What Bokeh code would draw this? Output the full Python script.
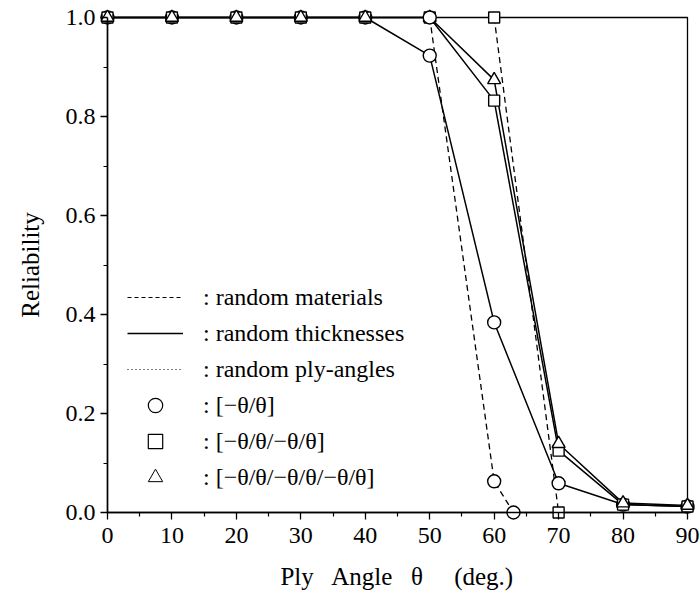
from bokeh.plotting import figure
from bokeh.models import FixedTicker, Legend, LegendItem, BoxAnnotation, LinearAxis
from bokeh.embed import file_html
from bokeh.resources import INLINE

# ---- data ----
# random thicknesses (solid lines)
thk_x = [0, 10, 20, 30, 40, 50, 60, 70, 80, 90]
thk_circle = [1.0, 1.0, 1.0, 1.0, 1.0, 0.923, 0.384, 0.059, 0.016, 0.012]
thk_square = [1.0, 1.0, 1.0, 1.0, 1.0, 1.0, 0.832, 0.125, 0.016, 0.012]
thk_triangle = [1.0, 1.0, 1.0, 1.0, 1.0, 1.0, 0.874, 0.139, 0.019, 0.014]
# random materials (dashed lines)
mat_circle_x = [50, 60, 63]
mat_circle = [1.0, 0.063, 0.0]
mat_square_x = [60, 70]
mat_square = [1.0, 0.0]

x_min, x_max = 0, 90
y_min, y_max = 0.0, 1.0
x_ticks = [0, 10, 20, 30, 40, 50, 60, 70, 80, 90]
x_tick_labels = ["0", "10", "20", "30", "40", "50", "60", "70", "80", "90"]
y_ticks = [0.0, 0.2, 0.4, 0.6, 0.8, 1.0]
y_tick_labels = ["0.0", "0.2", "0.4", "0.6", "0.8", "1.0"]

line_labels = [": random materials", ": random thicknesses", ": random ply-angles"]
marker_labels = [": [\u2212\u03b8/\u03b8]", ": [\u2212\u03b8/\u03b8/\u2212\u03b8/\u03b8]",
                 ": [\u2212\u03b8/\u03b8/\u2212\u03b8/\u03b8/\u2212\u03b8/\u03b8]"]
x_title = "Ply\u00a0\u00a0 Angle\u00a0\u00a0 \u03b8\u00a0\u00a0\u00a0\u00a0 (deg.)"
y_title = "Reliability"

FONT = "Liberation Serif"

# frame is padded by 10 px on each side so that edge markers are not clipped
PAD = 10
PX_X = 580 / (x_max - x_min)
PX_Y = 495 / (y_max - y_min)
dx = PAD / PX_X
dy = PAD / PX_Y

p = figure(width=700, height=599,
           x_range=(x_min - dx, x_max + dx), y_range=(y_min - dy, y_max + dy),
           output_backend="svg", toolbar_location=None,
           min_border_left=107 - PAD, min_border_right=13 - PAD,
           min_border_top=17 - PAD, min_border_bottom=87 - PAD)
p.grid.visible = False
p.outline_line_color = None
p.background_fill_color = "white"
p.border_fill_color = "white"

frame_box = BoxAnnotation(left=x_min, right=x_max, bottom=y_min, top=y_max,
                          fill_alpha=0, line_color="black", line_alpha=1.0,
                          line_width=1.3, level="underlay")
p.add_layout(frame_box)

x_ticker = FixedTicker(ticks=x_ticks, minor_ticks=[t + 5 for t in x_ticks[:-1]])
y_ticker = FixedTicker(ticks=y_ticks, minor_ticks=[round(t + 0.1, 1) for t in y_ticks[:-1]])

# label axes (default below / left): only tick labels and titles
for ax, ticker, ticks, labels in ((p.xaxis[0], x_ticker, x_ticks, x_tick_labels),
                                  (p.yaxis[0], y_ticker, y_ticks, y_tick_labels)):
    ax.ticker = ticker
    ax.major_label_overrides = {t: l for t, l in zip(ticks, labels)}
    ax.axis_line_color = None
    ax.major_tick_line_color = None
    ax.minor_tick_line_color = None
    ax.major_tick_in = 0
    ax.major_tick_out = 0
    ax.minor_tick_in = 0
    ax.minor_tick_out = 0
    ax.major_label_text_font = FONT
    ax.major_label_text_font_size = "24px"
    ax.major_label_text_color = "black"
    ax.axis_label_text_font = FONT
    ax.axis_label_text_font_size = "25px"
    ax.axis_label_text_font_style = "normal"
    ax.axis_label_text_color = "black"

p.xaxis.axis_label = x_title
p.yaxis.axis_label = y_title
p.xaxis.major_label_standoff = 5
p.yaxis.major_label_standoff = 2
p.xaxis.axis_label_standoff = 17
p.yaxis.axis_label_standoff = 19


def line_axis(ticker, ticks, loc):
    ax = LinearAxis(ticker=ticker, fixed_location=loc)
    ax.major_label_overrides = {t: "" for t in ticks}
    ax.major_label_text_font_size = "0px"
    ax.major_label_standoff = 0
    ax.axis_line_color = "black"
    ax.axis_line_width = 1.5
    ax.major_tick_line_color = "black"
    ax.minor_tick_line_color = "black"
    ax.major_tick_line_width = 1.3
    ax.minor_tick_line_width = 1.2
    ax.major_tick_in = 7
    ax.major_tick_out = 0
    ax.minor_tick_in = 4
    ax.minor_tick_out = 0
    return ax


# axis lines and ticks, drawn at the data edges (ticks pointing outward)
x_line_axis = line_axis(x_ticker, x_ticks, y_min)
x_line_axis.bounds = (x_min, x_max)
p.add_layout(x_line_axis, "above")
y_line_axis = line_axis(y_ticker, y_ticks, x_min)
y_line_axis.bounds = (y_min, y_max)
p.add_layout(y_line_axis, "right")

SOLID_W = 1.5
DASH_W = 1.3
DASH = "6 4"
MS_C = 13
MS_S = 11
MS_T = 13
MLW = 1.4

# lines
p.line(thk_x, thk_circle, line_color="black", line_width=SOLID_W)
p.line(thk_x, thk_square, line_color="black", line_width=SOLID_W)
p.line(thk_x, thk_triangle, line_color="black", line_width=SOLID_W)
p.line(mat_circle_x, mat_circle, line_color="black", line_width=DASH_W, line_dash=DASH)
p.line(mat_square_x, mat_square, line_color="black", line_width=DASH_W, line_dash=DASH)

# markers
p.scatter(thk_x, thk_circle, marker="circle", size=MS_C, fill_color="white",
          line_color="black", line_width=MLW)
p.scatter(thk_x, thk_square, marker="square", size=MS_S, fill_color="white",
          line_color="black", line_width=MLW)
p.scatter(thk_x, thk_triangle, marker="triangle", size=MS_T, fill_color="white",
          line_color="black", line_width=MLW)
p.scatter(mat_circle_x, mat_circle, marker="circle", size=MS_C, fill_color="white",
          line_color="black", line_width=MLW)
p.scatter(mat_square_x, mat_square, marker="square", size=MS_S, fill_color="white",
          line_color="black", line_width=MLW)

# hidden renderers that only supply the key glyph styles for the legend
lg_dash = p.line(thk_x, thk_circle, line_color="black", line_width=1.0, line_dash="4 3", visible=False)
lg_solid = p.line(thk_x, thk_circle, line_color="black", line_width=1.3, visible=False)
lg_dot = p.line(thk_x, thk_circle, line_color="black", line_width=1.0, line_dash="1 3", visible=False)
lg_c = p.scatter(thk_x, thk_circle, marker="circle", fill_color="white", line_color="black", line_width=1.2, visible=False)
lg_s = p.scatter(thk_x, thk_circle, marker="square", fill_color="white", line_color="black", line_width=1.2, visible=False)
lg_t = p.scatter(thk_x, thk_circle, marker="triangle", fill_color="white", line_color="black", line_width=1.0, visible=False)

legend = Legend(items=[
    LegendItem(label=line_labels[0], renderers=[lg_dash]),
    LegendItem(label=line_labels[1], renderers=[lg_solid]),
    LegendItem(label=line_labels[2], renderers=[lg_dot]),
    LegendItem(label=marker_labels[0], renderers=[lg_c]),
    LegendItem(label=marker_labels[1], renderers=[lg_s]),
    LegendItem(label=marker_labels[2], renderers=[lg_t]),
], location=(30, 27), glyph_width=56, glyph_height=36, label_height=36,
    spacing=0, padding=0, margin=0, label_standoff=20,
    border_line_alpha=0, background_fill_alpha=0,
    label_text_font=FONT, label_text_font_size="24px", label_text_color="black")
p.add_layout(legend)

open("out.html", "w").write(file_html(p, INLINE))
